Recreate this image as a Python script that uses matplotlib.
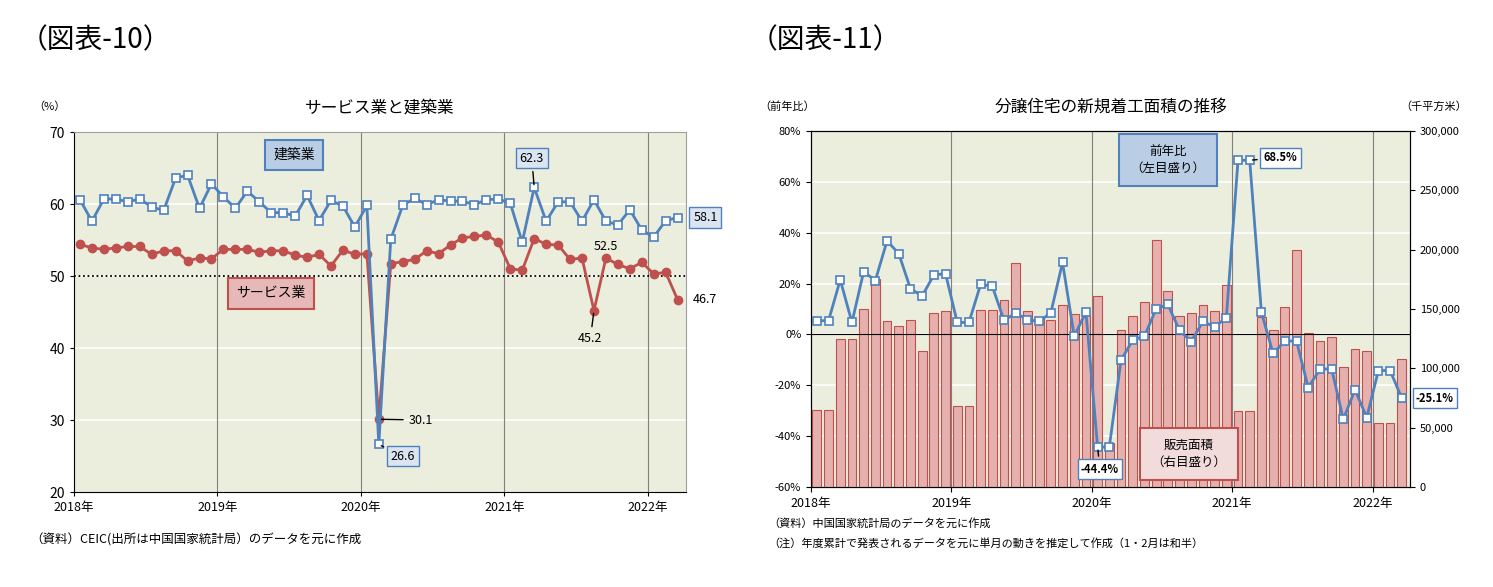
import numpy as np
import matplotlib
matplotlib.use('Agg')
import matplotlib.pyplot as plt

plt.rcParams['font.family'] = 'Noto Sans CJK JP'

# 図表-10: 2018年1月〜2022年3月
construction = [60.6, 57.6, 60.7, 60.7, 60.3, 60.7, 59.6, 59.1, 63.6, 64.0, 59.4, 62.8,
                61.0, 59.4, 61.8, 60.3, 58.8, 58.8, 58.3, 61.2, 57.7, 60.5, 59.7, 56.8,
                59.8, 26.6, 55.1, 59.8, 60.8, 59.9, 60.6, 60.4, 60.4, 59.9, 60.6, 60.7,
                60.1, 54.7, 62.3, 57.6, 60.3, 60.3, 57.6, 60.6, 57.6, 57.1, 59.2, 56.4,
                55.4, 57.7, 58.1]
services = [54.4, 53.9, 53.7, 53.9, 54.1, 54.1, 53.0, 53.5, 53.5, 52.1, 52.5, 52.4,
            53.7, 53.7, 53.7, 53.3, 53.5, 53.5, 52.9, 52.6, 53.0, 51.4, 53.6, 53.0,
            53.1, 30.1, 51.7, 52.0, 52.3, 53.5, 53.1, 54.3, 55.3, 55.5, 55.7, 54.7,
            51.0, 50.8, 55.2, 54.4, 54.3, 52.3, 52.5, 45.2, 52.5, 51.6, 51.0, 51.9,
            50.3, 50.5, 46.7]

# 図表-11
area = [65, 65, 125, 125, 150, 175, 140, 136, 141, 115, 147, 148,
        68, 68, 149, 149, 158, 189, 148, 142, 141, 153, 146, 145,
        161, 37, 132, 144, 156, 208, 165, 144, 147, 153, 148, 170,
        64, 64, 143, 132, 152, 200, 130, 123, 126, 101, 116, 115,
        54, 54, 108]  # 千平方米 (x1000)
yoy = [5.4, 5.4, 21.5, 4.7, 24.7, 21.2, 36.8, 31.8, 18.0, 15.1, 23.4, 23.9,
       4.7, 4.7, 19.7, 18.9, 5.5, 8.4, 5.8, 5.1, 8.5, 28.3, -0.7, 8.8,
       -44.4, -44.2, -10.1, -2.2, -0.7, 10.0, 11.8, 1.6, -2.8, 5.1, 2.9, 6.6,
       68.5, 68.5, 8.7, -7.5, -2.6, -2.6, -20.9, -13.7, -13.5, -33.4, -21.7, -32.7,
       -14.2, -14.2, -25.1]

year_labels = ['2018年', '2019年', '2020年', '2021年', '2022年']

BG = '#ebeedc'
BLUE = '#4f81bd'
RED = '#c0504d'
W, H = 1493, 587

fig = plt.figure(figsize=(W / 100, H / 100), dpi=100)


def ax_rect(x0, y0, x1, y1):
    return [x0 / W, 1 - y1 / H, (x1 - x0) / W, (y1 - y0) / H]


fig.text(20 / W, 1 - 40 / H, '（図表-10）', fontsize=20, va='center', ha='left')
fig.text(750 / W, 1 - 40 / H, '（図表-11）', fontsize=20, va='center', ha='left')

# ---------------- left chart
x = np.arange(len(construction)) + 0.5
ax = fig.add_axes(ax_rect(74, 132, 686, 492))
ax.set_facecolor(BG)
ax.set_xlim(0, 51.2)
ax.set_ylim(20, 70)
ax.set_yticks(range(20, 71, 10))
ax.set_xticks([0, 12, 24, 36, 48])
ax.set_xticklabels(year_labels, fontsize=9)
ax.tick_params(axis='y', labelsize=10)
ax.tick_params(length=3)
for y in range(30, 70, 10):
    ax.axhline(y, color='white', lw=1.2, zorder=0)
for xv in [12, 24, 36, 48]:
    ax.axvline(xv, color='#808080', lw=0.8, zorder=0)
ax.axhline(50, color='black', lw=1.3, ls=(0, (1, 1.5)), zorder=1)
ax.plot(x, construction, color=BLUE, lw=2, marker='s', ms=6, mfc='white', mec=BLUE, mew=1.2, zorder=3)
ax.plot(x, services, color=RED, lw=2, marker='o', ms=6, mfc=RED, mec=RED, zorder=2)
for s in ['top', 'right']:
    ax.spines[s].set_color('#a0a0a0')
ax.set_title('サービス業と建築業', fontsize=12, pad=14)
ax.text(-0.04, 1.06, '（%）', transform=ax.transAxes, fontsize=8, ha='center')

box_b = dict(boxstyle='square,pad=0.3', fc='#dbe5f1', ec=BLUE)
ax.annotate('62.3', (x[38], construction[38]), xytext=(x[38] - 0.2, 65.9), fontsize=9, ha='center',
            bbox=box_b, arrowprops=dict(arrowstyle='-', color='black'))
ax.annotate('26.6', (x[25], construction[25]), xytext=(x[25] + 2, 24.5), fontsize=9, ha='center',
            bbox=box_b, arrowprops=dict(arrowstyle='-', color='black'))
ax.text(51.8, construction[50], '58.1', fontsize=9, va='center', ha='left', bbox=box_b, clip_on=False)
ax.annotate('30.1', (x[25], services[25]), xytext=(x[25] + 2.5, 30), fontsize=9, va='center',
            arrowprops=dict(arrowstyle='-', color='black'))
ax.annotate('45.2', (x[43], services[43]), xytext=(x[43] - 0.3, 40.8), fontsize=9, ha='center',
            arrowprops=dict(arrowstyle='-', color='black'))
ax.text(x[44], 54.1, '52.5', fontsize=9, ha='center', va='center')
ax.text(51.8, services[50], '46.7', fontsize=9, va='center', ha='left', clip_on=False)
ax.text(18.4, 66.8, '建築業', fontsize=10, ha='center', va='center',
        bbox=dict(boxstyle='square,pad=0.6', fc='#b9cde5', ec=BLUE, lw=1.5))
ax.text(16.5, 47.6, 'サービス業', fontsize=10, ha='center', va='center',
        bbox=dict(boxstyle='square,pad=0.6', fc='#e6b9b8', ec=RED, lw=1.5))
fig.text(30 / W, 1 - 540 / H, '（資料）CEIC(出所は中国国家統計局）のデータを元に作成', fontsize=9, va='center')

# ---------------- right chart
x2 = np.arange(len(area)) + 0.5
ax2 = fig.add_axes(ax_rect(811, 131, 1410, 487))
ax2.set_facecolor(BG)
ax2.set_xlim(0, 51.2)
ax2.set_ylim(-60, 80)
ax2.set_yticks(range(-60, 81, 20))
ax2.set_yticklabels([f'{v}%' for v in range(-60, 81, 20)], fontsize=8)
ax2.set_xticks([0, 12, 24, 36, 48])
ax2.set_xticklabels(year_labels, fontsize=9)
for y in range(-40, 80, 20):
    ax2.axhline(y, color='white', lw=1.2, zorder=0)
for xv in [12, 24, 36, 48]:
    ax2.axvline(xv, color='#808080', lw=0.8, zorder=0)

axr = ax2.twinx()
axr.bar(x2, np.array(area) * 1000, width=0.75, color='#e6b0ae', ec=RED, lw=0.8, zorder=1)
axr.set_ylim(0, 300000)
axr.set_yticks(range(0, 300001, 50000))
axr.set_yticklabels(['0', '50,000', '100,000', '150,000', '200,000', '250,000', '300,000'], fontsize=8)

# line on a second twin with the left scale so it sits above the bars
axl = ax2.twinx()
axl.set_ylim(-60, 80)
axl.axis('off')
axl.axhline(0, color='black', lw=0.8)
axl.plot(x2, yoy, color=BLUE, lw=2, marker='s', ms=6, mfc='white', mec=BLUE, mew=1.2)
ax2.set_title('分譲住宅の新規着工面積の推移', fontsize=12, pad=14)
ax2.text(-0.04, 1.06, '（前年比）', transform=ax2.transAxes, fontsize=8, ha='center')
ax2.text(1.04, 1.06, '（千平方米）', transform=ax2.transAxes, fontsize=8, ha='center')
box_w = dict(boxstyle='square,pad=0.3', fc='white', ec=BLUE)
axl.annotate('68.5%', (x2[37], yoy[37]), xytext=(x2[37] + 1.2, yoy[37] + 1), fontsize=8,
             fontweight='bold', va='center', bbox=box_w, arrowprops=dict(arrowstyle='-', color='black'))
axl.annotate('-44.4%', (x2[24], yoy[24]), xytext=(x2[24] + 0.2, -53), fontsize=8,
             fontweight='bold', ha='center', va='center', bbox=box_w,
             arrowprops=dict(arrowstyle='-', color='black'))
axl.text(51.7, yoy[50], '-25.1%', fontsize=8, fontweight='bold', va='center', bbox=box_w, clip_on=False)
axl.text(30.5, 68.5, '前年比\n（左目盛り）', fontsize=9, ha='center', va='center', linespacing=1.4,
         bbox=dict(boxstyle='square,pad=0.9', fc='#b9cde5', ec=BLUE, lw=1.5))
axl.text(32.3, -47, '販売面積\n（右目盛り）', fontsize=9, ha='center', va='center', linespacing=1.4,
         bbox=dict(boxstyle='square,pad=0.9', fc='#f2dcdb', ec=RED, lw=1.5))
fig.text(768 / W, 1 - 523 / H, '（資料）中国国家統計局のデータを元に作成', fontsize=8, va='center')
fig.text(768 / W, 1 - 543 / H, '（注）年度累計で発表されるデータを元に単月の動きを推定して作成（1・2月は和半）',
         fontsize=8, va='center')

fig.savefig('out.png', dpi=100, facecolor='white')
